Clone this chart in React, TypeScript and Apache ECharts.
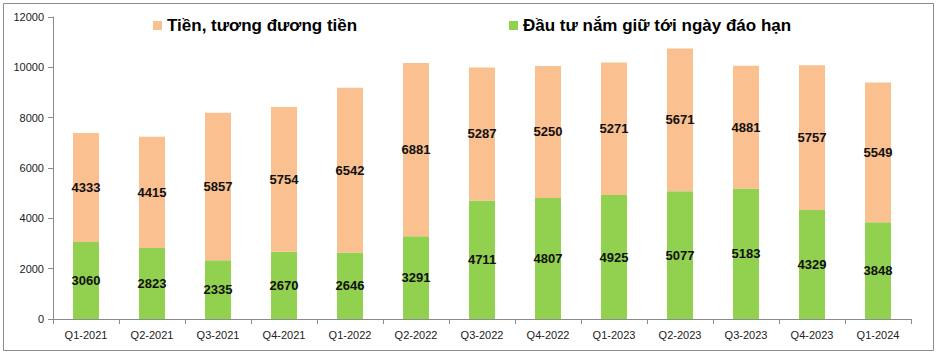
import React, { useEffect, useRef } from "react";
import * as echarts from "echarts";

const categories = ["Q1-2021", "Q2-2021", "Q3-2021", "Q4-2021", "Q1-2022", "Q2-2022", "Q3-2022", "Q4-2022", "Q1-2023", "Q2-2023", "Q3-2023", "Q4-2023", "Q1-2024"];
const htmValues = [3060, 2823, 2335, 2670, 2646, 3291, 4711, 4807, 4925, 5077, 5183, 4329, 3848];
const cashValues = [4333, 4415, 5857, 5754, 6542, 6881, 5287, 5250, 5271, 5671, 4881, 5757, 5549];
const seriesNames = ["Tiền, tương đương tiền", "Đầu tư nắm giữ tới ngày đáo hạn"];

export default function App() {
  const ref = useRef<HTMLDivElement>(null);
  useEffect(() => {
    const chart = echarts.init(ref.current!, null, { renderer: "svg" });
    const labelStyle = {
      show: true,
      position: "inside",
      color: "#111",
      fontWeight: "bold",
      fontSize: 13,
      fontFamily: "Liberation Sans, Arial, sans-serif",
    };
    chart.setOption({
      animation: false,
      backgroundColor: "#fff",
      graphic: [
        {
          type: "rect",
          shape: { x: 3.5, y: 3.5, width: 930, height: 347 },
          style: { fill: "none", stroke: "#8c8c8c", lineWidth: 1 },
          silent: true,
        },
      ],
      legend: [
        {
          data: [seriesNames[0]],
          left: 148,
          top: 12,
          itemWidth: 9,
          itemHeight: 9,
          icon: "rect",
          textStyle: { fontSize: 17, fontWeight: "bold", color: "#000", fontFamily: "Liberation Sans, Arial, sans-serif" },
        },
        {
          data: [seriesNames[1]],
          left: 504,
          top: 12,
          itemWidth: 9,
          itemHeight: 9,
          icon: "rect",
          textStyle: { fontSize: 17, fontWeight: "bold", color: "#000", fontFamily: "Liberation Sans, Arial, sans-serif" },
        },
      ],
      grid: { left: 53, right: 28, top: 17, bottom: 37 },
      xAxis: {
        type: "category",
        data: categories,
        axisLine: { lineStyle: { color: "#8c8c8c" } },
        axisTick: { show: true, alignWithLabel: false, length: 5, lineStyle: { color: "#8c8c8c" } },
        axisLabel: { color: "#222", fontSize: 11, margin: 10, fontFamily: "Liberation Sans, Arial, sans-serif" },
      },
      yAxis: {
        type: "value",
        min: 0,
        max: 12000,
        interval: 2000,
        axisLine: { show: true, lineStyle: { color: "#8c8c8c" } },
        axisTick: { show: true, length: 5, lineStyle: { color: "#8c8c8c" } },
        axisLabel: {
          color: "#222",
          fontSize: 11,
          margin: 9,
          fontFamily: "Liberation Sans, Arial, sans-serif",
          formatter: (v: number) => String(v),
        },
        splitLine: { show: false },
      },
      series: [
        {
          name: seriesNames[1],
          type: "bar",
          stack: "total",
          data: htmValues,
          barWidth: 26,
          itemStyle: { color: "#92D050" },
          label: labelStyle,
        },
        {
          name: seriesNames[0],
          type: "bar",
          stack: "total",
          data: cashValues,
          barWidth: 26,
          itemStyle: { color: "#FAC090" },
          label: labelStyle,
        },
      ],
    });
    return () => chart.dispose();
  }, []);
  return <div ref={ref} style={{ position: "absolute", left: 0, top: 0, width: 939, height: 356 }} />;
}
